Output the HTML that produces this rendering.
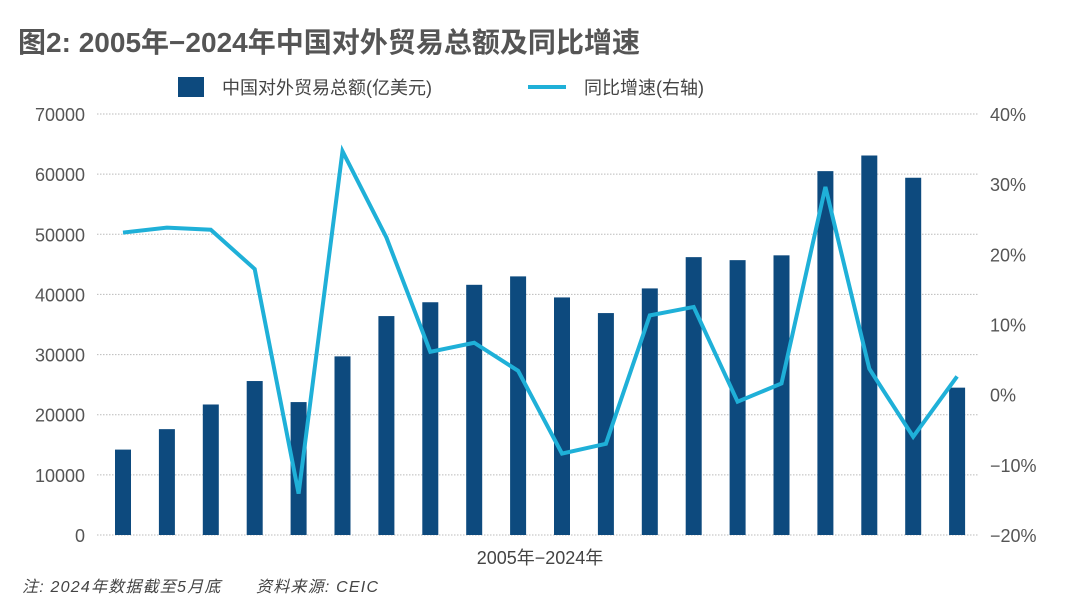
<!DOCTYPE html>
<html><head><meta charset="utf-8"><style>
body{margin:0;background:#fff;width:1080px;height:614px;overflow:hidden}
svg{display:block}
text{font-family:"Liberation Sans","Noto Sans CJK SC",sans-serif}
</style></head><body>
<svg id="c" width="1080" height="614" xmlns="http://www.w3.org/2000/svg">
<text x="18" y="52" font-size="28" font-weight="bold" fill="#555" textLength="622">图2: 2005年−2024年中国对外贸易总额及同比增速</text>
<rect x="178" y="77" width="26" height="20" fill="#0d4a7e"/>
<text x="222" y="94" font-size="18" fill="#444">中国对外贸易总额(亿美元)</text>
<line x1="528" y1="87" x2="566" y2="87" stroke="#1fb0d8" stroke-width="4"/>
<text x="584" y="94" font-size="18" fill="#444">同比增速(右轴)</text>
<text x="540" y="564" font-size="18" fill="#444" text-anchor="middle">2005年−2024年</text>
<text x="22" y="592" font-size="16" font-style="italic" fill="#444" textLength="356">注: 2024年数据截至5月底　　资料来源: CEIC</text>
<g id="g"></g>
</svg>
<script>
const years=[2005,2006,2007,2008,2009,2010,2011,2012,2013,2014,2015,2016,2017,2018,2019,2020,2021,2022,2023,2024];
const tradeTotal=[14200,17600,21700,25600,22100,29700,36400,38700,41600,43000,39500,36900,41000,46200,45700,46500,60500,63100,59400,24500];
const growthPct=[23.1,23.8,23.5,17.9,-14.1,34.7,22.4,6.1,7.4,3.4,-8.4,-7.0,11.3,12.5,-1.0,1.6,29.6,3.7,-6.0,2.6];
const leftTicks=[0,10000,20000,30000,40000,50000,60000,70000];
const rightTicks=[-20,-10,0,10,20,30,40];
const NS="http://www.w3.org/2000/svg";
const g=document.getElementById('g');
const yL=v=>535-v*(421/70000);
const yR=v=>535-(v+20)*(421/60);
const xC=i=>123+i*43.9;
function mk(t,a){const e=document.createElementNS(NS,t);for(const k in a)e.setAttribute(k,a[k]);g.appendChild(e);return e;}
leftTicks.forEach(v=>{
 const l=mk('line',{x1:97,x2:978,y1:yL(v),y2:yL(v),stroke:'#bbb','stroke-width':1,'stroke-dasharray':'1.5 1.5'});
 
 
 const t=mk('text',{x:85,y:yL(v)+7,'font-size':18,fill:'#555','text-anchor':'end'});t.textContent=v;
 
 
});
rightTicks.forEach(v=>{
 const t=mk('text',{x:990,y:yR(v)+7,'font-size':18,fill:'#555'});t.textContent=(v<0?'−':'')+Math.abs(v)+'%';
 
 
});
tradeTotal.forEach((v,i)=>{
 const r=mk('rect',{x:xC(i)-8,y:yL(v),width:16,height:535-yL(v),fill:'#0d4a7e'});
 
 
});
const p=mk('polyline',{points:growthPct.map((v,i)=>xC(i)+','+yR(v)).join(' '),fill:'none',stroke:'#1fb0d8','stroke-width':4,'stroke-linejoin':'miter'});


</script>
</body></html>
